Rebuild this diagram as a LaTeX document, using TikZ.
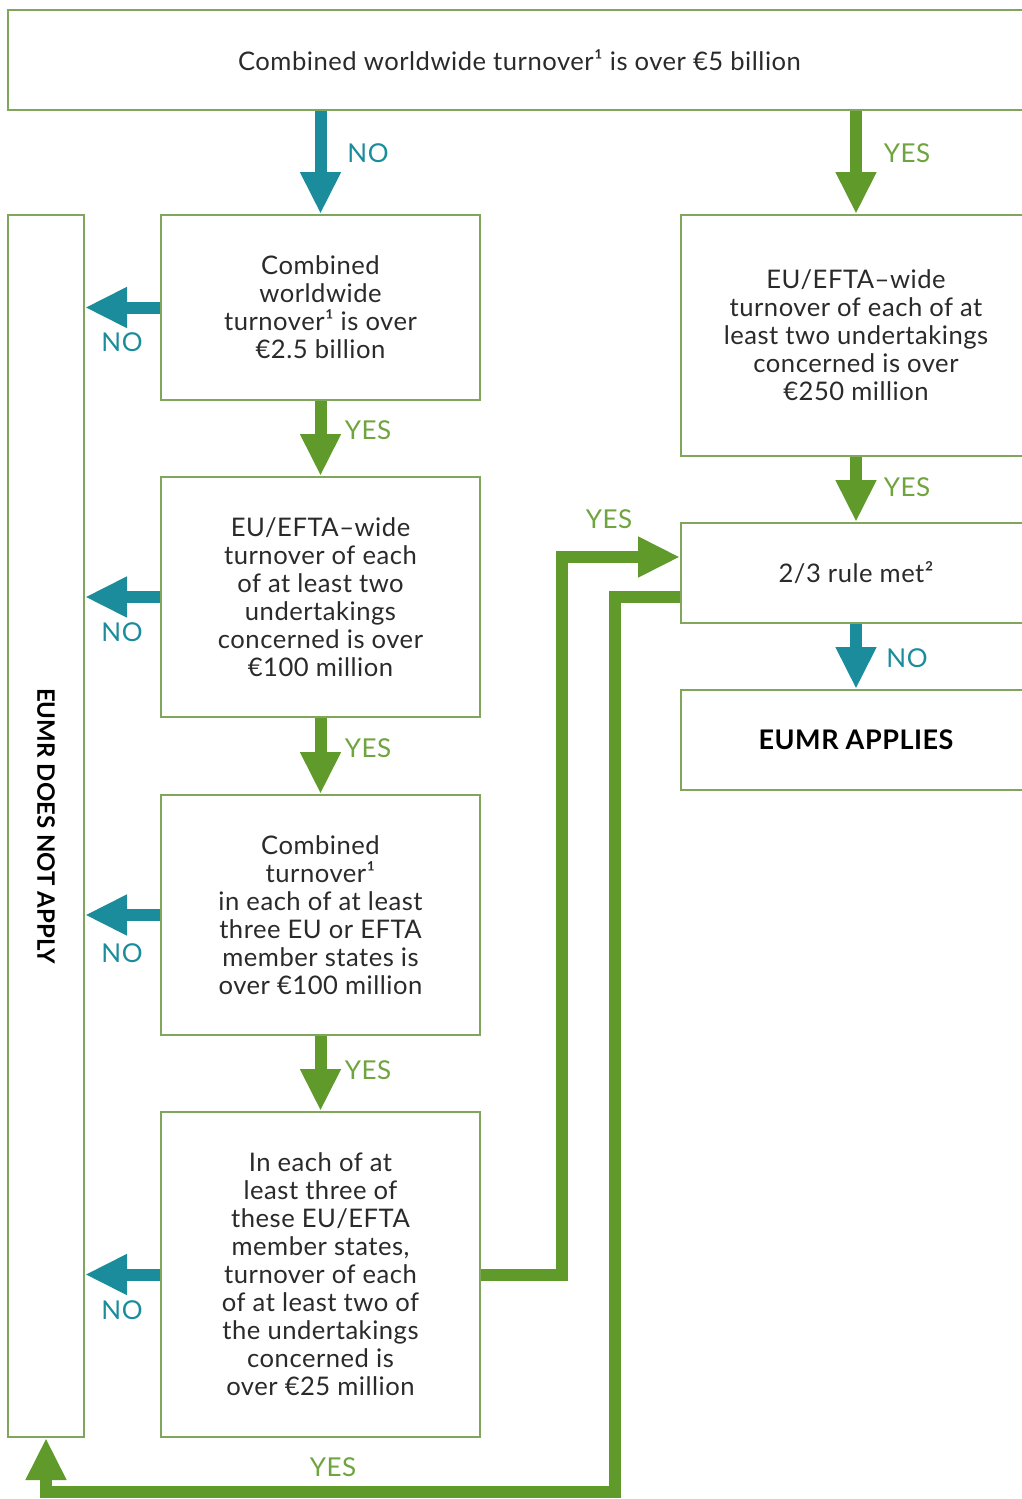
\documentclass[tikz,border=0pt]{standalone}
\usepackage{fontspec}
\setmainfont{Lato}[LetterSpace=2]
\newfontfamily\tightlato{Lato}
\usepackage{tikz}
\usetikzlibrary{arrows.meta,positioning}
\definecolor{boxgreen}{HTML}{7FA65A}
\definecolor{arrgreen}{HTML}{5F9A2A}
\definecolor{arrteal}{HTML}{1A8C9C}
\definecolor{txtgray}{HTML}{2A2A2A}
\tikzset{box/.style={draw=boxgreen,line width=1pt,fill=white,align=center,
    text=txtgray,font=\fontsize{12.8}{14}\selectfont,inner sep=0pt}}
\tikzset{yesarrow/.style={draw=arrgreen,line width=6pt,line join=miter,
    -{Triangle[width=19pt,length=21pt]}}}
\tikzset{noarrow/.style={draw=arrteal,line width=6pt,
    -{Triangle[width=19pt,length=21pt]}}}
\tikzset{yeslbl/.style={text=arrgreen!90!white,font=\fontsize{13}{14}\selectfont}}
\tikzset{nolbl/.style={text=arrteal,font=\fontsize{13}{14}\selectfont}}
\begin{document}
\begin{tikzpicture}[x=0.5pt,y=-0.5pt]
\clip (0,0) rectangle (1022,1499);
% boxes
\node (top) [box,minimum width=511.5pt,minimum height=50pt] at (519.5,60)
  {Combined worldwide turnover¹ is over €5 billion};
\node (notapply) [box,minimum width=38pt,minimum height=611pt] at (46,826) {};
\node [rotate=-90,font=\tightlato\fontsize{12}{14}\selectfont\bfseries,text=black] (notapplytxt) at (notapply) {EUMR DOES NOT APPLY};
\node (world) [box,minimum width=159.5pt,minimum height=92.5pt] at (320.5,307.5)
  {Combined\\worldwide\\turnover¹ is over\\€2.5 billion};
\node (eu100) [box,minimum width=159.5pt,minimum height=120pt] at (320.5,597)
  {EU/EFTA–wide\\turnover of each\\of at least two\\undertakings\\concerned is over\\€100 million};
\node (three) [box,minimum width=159.5pt,minimum height=120pt] at (320.5,915)
  {Combined\\turnover¹\\in each of at least\\three EU or EFTA\\member states is\\over €100 million};
\node (each25) [box,minimum width=159.5pt,minimum height=162.5pt] at (320.5,1274.5)
  {In each of at\\least three of\\these EU/EFTA\\member states,\\turnover of each\\of at least two of\\the undertakings\\concerned is\\over €25 million};
\node (eu250) [box,minimum width=175pt,minimum height=120.5pt] at (856,335.5)
  {EU/EFTA–wide\\turnover of each of at\\least two undertakings\\concerned is over\\€250 million};
\node (rule) [box,minimum width=175pt,minimum height=50pt] at (856,573)
  {2/3 rule met²};
\node (applies) [box,minimum width=175pt,minimum height=50pt,text=black,font=\fontsize{13.5}{14}\selectfont\bfseries] at (856,740)
  {EUMR APPLIES};
%
\coordinate (up1) at (562,1274.5);
\coordinate (dn1) at (615,1492);
% connectors
\draw[noarrow] (top.south -| world.north) -- (world.north);
\draw[yesarrow] (top.south -| eu250.north) -- (eu250.north);
\draw[noarrow] (world.west) -- (world.west -| notapply.east);
\draw[noarrow] (eu100.west) -- (eu100.west -| notapply.east);
\draw[noarrow] (three.west) -- (three.west -| notapply.east);
\draw[noarrow] (each25.west) -- (each25.west -| notapply.east);
\draw[yesarrow] (world.south) -- (eu100.north);
\draw[yesarrow] (eu100.south) -- (three.north);
\draw[yesarrow] (three.south) -- (each25.north);
\draw[yesarrow] (eu250.south) -- (rule.north);
\draw[noarrow] (rule.south) -- (applies.north);
\draw[yesarrow] (each25.east) -- (up1) |- ([yshift=8pt]rule.west);
\draw[yesarrow] ([yshift=-12pt]rule.west) -| (dn1) -| (notapply.south);
% labels
\node[nolbl] (no0) at (368,153) {NO};
\node[yeslbl] (yes0) at (907,153) {YES};
\node[nolbl] (no1) at (122,342) {NO};
\node[nolbl] (no2) at (122,632) {NO};
\node[nolbl] (no3) at (122,953) {NO};
\node[nolbl] (no4) at (122,1310) {NO};
\node[yeslbl] (yes1) at (368,430) {YES};
\node[yeslbl] (yes2) at (368,748) {YES};
\node[yeslbl] (yes3) at (368,1070) {YES};
\node[yeslbl] (yes4) at (907,487) {YES};
\node[nolbl] (no5) at (907,658) {NO};
\node[yeslbl] (yes5) at (609,519) {YES};
\node[yeslbl] (yes6) at (333,1467) {YES};
\end{tikzpicture}
\end{document}
